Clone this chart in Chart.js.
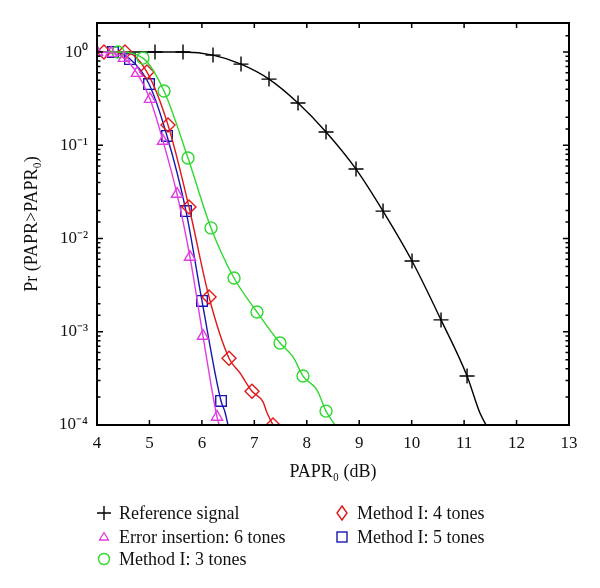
<!DOCTYPE html>
<html>
<head>
<meta charset="utf-8">
<script src="https://cdn.jsdelivr.net/npm/chart.js@4.4.1/dist/chart.umd.min.js"></script>
<style>
  html, body { margin: 0; padding: 0; background: #fff; }
  #wrap { position: relative; width: 600px; height: 588px; }
  #chart { position: absolute; left: 0; top: 0; }
  .leg { position: absolute; font: 18px "Liberation Serif", serif; color: #111; white-space: nowrap; line-height: 20px; }
  .leg svg { position: absolute; left: -23px; top: 0; }
</style>
</head>
<body>
<div id="wrap">
  <canvas id="chart" width="600" height="588"></canvas>
  <div class="leg" style="left:119px; top:503px"><svg width="16" height="20"><path d="M1 10H15M8 3V17" stroke="#000" stroke-width="1.4"/></svg>Reference signal</div>
  <div class="leg" style="left:119px; top:527px"><svg width="16" height="20"><path d="M8 5.5L12.5 13H3.5Z" fill="none" stroke="#e03ce0" stroke-width="1.3"/></svg>Error insertion: 6 tones</div>
  <div class="leg" style="left:119px; top:549px"><svg width="16" height="20"><circle cx="8" cy="10" r="5.5" fill="none" stroke="#2fd82f" stroke-width="1.4"/></svg>Method I: 3 tones</div>
  <div class="leg" style="left:357px; top:503px"><svg width="16" height="20"><path d="M8 3L13 10L8 17L3 10Z" fill="none" stroke="#e01818" stroke-width="1.4"/></svg>Method I: 4 tones</div>
  <div class="leg" style="left:357px; top:527px"><svg width="16" height="20"><rect x="3" y="5" width="10" height="10" fill="none" stroke="#1818b0" stroke-width="1.4"/></svg>Method I: 5 tones</div>
</div>
<script>
// axis settings
const xTicks = [4, 5, 6, 7, 8, 9, 10, 11, 12, 13];
const yMin = 1e-4;
const yMax = 2.05;

// Reference signal (black +)
const refX = [5.106, 5.64, 6.212, 6.746, 7.28, 7.833, 8.367, 8.939, 9.454, 10.007, 10.56, 11.056];
const refY = [1.0, 1.0, 0.928, 0.743, 0.513, 0.284, 0.139, 0.0556, 0.0197, 0.00574, 0.00134, 3.35e-4];
const refExtraX = [4.0, 4.55, 11.30, 11.418];
const refExtraY = [1.0, 1.0, 1.35e-4, 1e-4];

// Error insertion: 6 tones (magenta triangles)
const errX = [4.0, 4.27, 4.515, 4.763, 5.011, 5.259, 5.526, 5.773, 6.021, 6.288];
const errY = [1.0, 0.975, 0.862, 0.595, 0.313, 0.111, 0.030, 0.00633, 9.0e-4, 1.22e-4];
const errExtraX = [6.33];
const errExtraY = [1e-4];

// Method I: 3 tones (green circles)
const m3X = [4.40, 4.877, 5.278, 5.735, 6.174, 6.613, 7.051, 7.49, 7.928, 8.367];
const m3Y = [1.0, 0.862, 0.382, 0.073, 0.0130, 0.00377, 0.00163, 7.57e-4, 3.35e-4, 1.41e-4];
const m3ExtraX = [4.0, 7.738, 8.195, 8.539];
const m3ExtraY = [1.0, 5.37e-4, 2.37e-4, 1e-4];

// Method I: 4 tones (red diamonds)
const m4X = [4.133, 4.534, 4.953, 5.354, 5.754, 6.136, 6.517, 6.956, 7.356];
const m4Y = [1.0, 1.0, 0.61, 0.165, 0.0218, 0.00236, 5.2e-4, 2.3e-4, 1e-4];
const m4ExtraX = [4.0, 6.727, 7.166, 7.242];
const m4ExtraY = [1.0, 3.61e-4, 1.77e-4, 1.35e-4];

// Method I: 5 tones (blue squares)
const m5X = [4.305, 4.629, 4.992, 5.335, 5.697, 6.002, 6.365];
const m5Y = [1.0, 0.841, 0.454, 0.126, 0.0197, 0.00214, 1.81e-4];
const m5ExtraX = [4.0, 6.44, 6.498];
const m5ExtraY = [1.0, 1.38e-4, 1e-4];

function pts(xs, ys) {
    return xs.map((x, i) => ({ x: x, y: ys[i] }));
}
function linePts(xs, ys, ex, ey) {
    return pts(xs, ys).concat(pts(ex, ey)).sort((a, b) => a.x - b.x);
}

const series = [
    { name: 'Error insertion: 6 tones', color: '#e03ce0', style: 'triangle', r: 6.5, x: errX, y: errY, ex: errExtraX, ey: errExtraY },
    { name: 'Method I: 3 tones', color: '#2fd82f', style: 'circle', r: 6, x: m3X, y: m3Y, ex: m3ExtraX, ey: m3ExtraY },
    { name: 'Method I: 4 tones', color: '#e01818', style: 'rectRot', r: 7, x: m4X, y: m4Y, ex: m4ExtraX, ey: m4ExtraY },
    { name: 'Method I: 5 tones', color: '#1818b0', style: 'rect', r: 7.5, x: m5X, y: m5Y, ex: m5ExtraX, ey: m5ExtraY },
    { name: 'Reference signal', color: '#000000', style: 'cross', r: 7.5, x: refX, y: refY, ex: refExtraX, ey: refExtraY }
];

const datasets = [];
series.forEach(s => {
    datasets.push({
        label: s.name,
        data: linePts(s.x, s.y, s.ex, s.ey),
        showLine: true,
        borderColor: s.color,
        borderWidth: 1.4,
        pointRadius: 0,
        cubicInterpolationMode: 'monotone',
        fill: false
    });
    datasets.push({
        label: s.name + ' markers',
        data: pts(s.x, s.y),
        showLine: false,
        pointStyle: s.style,
        pointRadius: s.r,
        pointBorderColor: s.color,
        pointBackgroundColor: 'rgba(0,0,0,0)',
        pointBorderWidth: 1.4
    });
});

const sup = { '0': '\u2070', '1': '\u00b9', '2': '\u00b2', '3': '\u00b3', '4': '\u2074', '-': '\u207b' };
function isDecade(v) {
    const l = Math.log10(v);
    return Math.abs(l - Math.round(l)) < 1e-6;
}

// inward ticks + frame
const frameTicks = {
    id: 'frameTicks',
    afterDraw(chart) {
        const { ctx, chartArea: a, scales: { x, y } } = chart;
        ctx.save();
        ctx.strokeStyle = '#000';
        ctx.lineWidth = 1.5;
        ctx.beginPath();
        x.ticks.forEach(t => {
            const px = x.getPixelForValue(t.value);
            if (px <= a.left + 1 || px >= a.right - 1) return;
            ctx.moveTo(px, a.bottom); ctx.lineTo(px, a.bottom - 5);
            ctx.moveTo(px, a.top); ctx.lineTo(px, a.top + 5);
        });
        y.ticks.forEach(t => {
            const py = y.getPixelForValue(t.value);
            if (py <= a.top + 1 || py >= a.bottom - 1) return;
            const len = isDecade(t.value) ? 6 : 3.5;
            ctx.moveTo(a.left, py); ctx.lineTo(a.left + len, py);
            ctx.moveTo(a.right, py); ctx.lineTo(a.right - len, py);
        });
        ctx.stroke();
        ctx.lineWidth = 2;
        ctx.strokeRect(a.left, a.top, a.right - a.left, a.bottom - a.top);
        ctx.restore();
    }
};

const tickFont = { family: '"Liberation Serif", serif', size: 17 };
const titleFont = { family: '"Liberation Serif", serif', size: 18 };

new Chart(document.getElementById('chart'), {
    type: 'scatter',
    data: { datasets: datasets },
    options: {
        responsive: false,
        animation: false,
        layout: { padding: { left: 17, right: 31, top: 23, bottom: 101 } },
        plugins: { legend: { display: false }, tooltip: { enabled: false } },
        scales: {
            x: {
                type: 'linear',
                min: 4,
                max: 13,
                afterBuildTicks: sc => { sc.ticks = xTicks.map(v => ({ value: v })); },
                afterFit: sc => { sc.height = 62; },
                grid: { display: false, drawTicks: false },
                border: { display: false },
                ticks: { color: '#111', font: tickFont, padding: 8 },
                title: { display: true, text: 'PAPR\u2080 (dB)', color: '#111', font: titleFont, padding: 4 }
            },
            y: {
                type: 'logarithmic',
                min: yMin,
                max: yMax,
                afterFit: sc => { sc.width = 80; },
                grid: { display: false, drawTicks: false },
                border: { display: false },
                ticks: {
                    autoSkip: false,
                    color: '#111',
                    font: tickFont,
                    padding: 9,
                    callback: v => isDecade(v) ? '10' + String(Math.round(Math.log10(v))).split('').map(c => sup[c]).join('') : ''
                },
                title: { display: true, text: 'Pr (PAPR>PAPR\u2080)', color: '#111', font: titleFont, padding: 4 }
            }
        }
    },
    plugins: [frameTicks]
});
</script>
</body>
</html>
